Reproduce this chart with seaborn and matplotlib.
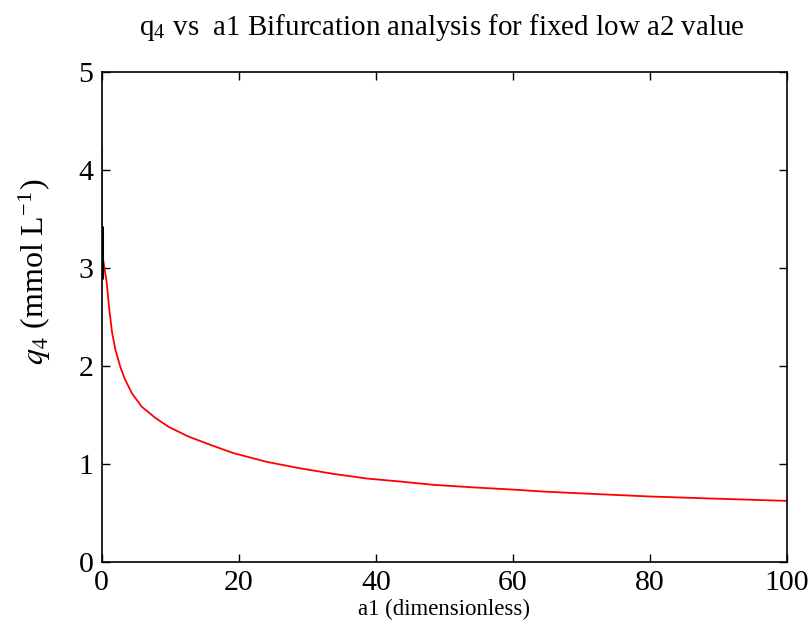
import matplotlib
matplotlib.use("Agg")
import matplotlib.pyplot as plt
import seaborn as sns
import pandas as pd

# values
a1 = [0, 0, 0.2, 0.7, 1.1, 1.5, 2.0, 2.7, 3.4, 4.4, 5.8, 7.8, 9.7, 12.6, 16.0,
      19.2, 24.1, 28.9, 33.8, 38.7, 43.5, 48.4, 54.2, 60.6, 64.5, 72.7, 80.0,
      87.3, 100.0]
q4 = [4.24, 3.42, 3.08, 2.86, 2.57, 2.34, 2.16, 1.99, 1.86, 1.72, 1.585, 1.47,
      1.38, 1.28, 1.19, 1.11, 1.02, 0.955, 0.898, 0.85, 0.82, 0.786, 0.76,
      0.735, 0.717, 0.69, 0.667, 0.65, 0.622]
# short black piece on the left edge
a1_black = [0, 0]
q4_black = [3.42, 2.90]

xticks = [0, 20, 40, 60, 80, 100]
yticks = [0, 1, 2, 3, 4, 5]

sns.set_style("ticks")
plt.rcParams['font.family'] = ['Liberation Serif', 'DejaVu Serif']
plt.rcParams['mathtext.fontset'] = 'stix'
plt.rcParams['text.color'] = 'black'
plt.rcParams['axes.labelcolor'] = 'black'
plt.rcParams['xtick.color'] = 'black'
plt.rcParams['ytick.color'] = 'black'
plt.rcParams['axes.edgecolor'] = 'black'

df = pd.DataFrame({'a1': a1, 'q4': q4})
dfb = pd.DataFrame({'a1': a1_black, 'q4': q4_black})

fig = plt.figure(figsize=(8.08, 6.37), dpi=100)
ax = fig.add_axes([0.126, 0.118, 0.848, 0.769])

sns.lineplot(data=df, x='a1', y='q4', sort=False, estimator=None,
             color='#ff0000', linewidth=1.3, ax=ax)
sns.lineplot(data=dfb, x='a1', y='q4', sort=False, estimator=None,
             color='black', linewidth=2.2, ax=ax)

ax.set_xlim(0, 100)
ax.set_ylim(0, 5)
ax.set_xticks(xticks)
ax.set_yticks(yticks)
ax.tick_params(direction='in', length=6, width=1, top=True, right=True,
               labelsize=21.5, pad=6)
for s in ax.spines.values():
    s.set_linewidth(1.2)

ax.set_xlabel('a1 (dimensionless)', fontsize=16.5, labelpad=2)
ax.set_ylabel(r'$q_4$ (mmol L$^{\mathregular{-1}}$)', fontsize=23)
ax.yaxis.set_label_coords(-0.071, 0.592)
fig.text(0.547, 0.957, r'q$_{\mathregular{4}}$ vs  a1 Bifurcation analysis for fixed low a2 value',
         ha='center', va='center', fontsize=20.9)

fig.savefig('out.png', dpi=100)
